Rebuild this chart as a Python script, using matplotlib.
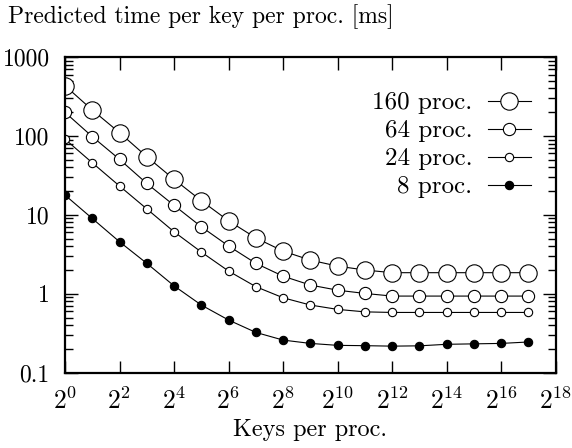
import numpy as np
import matplotlib
matplotlib.use("Agg")
import matplotlib.pyplot as plt
from matplotlib.ticker import NullLocator

plt.rcParams["font.family"] = "serif"
plt.rcParams["font.serif"] = ["cmr10", "DejaVu Serif"]
plt.rcParams["mathtext.fontset"] = "cm"
plt.rcParams["axes.formatter.use_mathtext"] = True

# 数据
key_exp = list(range(0, 18))  # keys per proc. = 2^k
t160 = [433, 213, 110, 54.6, 28.2, 15.1, 8.4, 5.1, 3.47, 2.67, 2.24, 2.0, 1.85, 1.85, 1.85, 1.85, 1.85, 1.85]
t64 = [199, 98, 50.5, 25, 13.2, 7.06, 4.03, 2.43, 1.67, 1.29, 1.11, 1.01, 0.935, 0.935, 0.935, 0.935, 0.935, 0.935]
t24 = [91, 45.7, 23.2, 11.9, 6.1, 3.38, 1.94, 1.23, 0.89, 0.72, 0.634, 0.59, 0.58, 0.58, 0.58, 0.58, 0.58, 0.58]
t8 = [17.8, 9.0, 4.56, 2.43, 1.26, 0.72, 0.465, 0.324, 0.259, 0.235, 0.222, 0.22, 0.217, 0.219, 0.229, 0.232, 0.235, 0.245]
labels = ["160 proc.", "64 proc.", "24 proc.", "8 proc."]
x_tick_exp = list(range(0, 19, 2))
y_ticks = [0.1, 1, 10, 100, 1000]
y_ticklabels = ["0.1", "1", "10", "100", "1000"]

X = [2 ** k for k in key_exp]

fig = plt.figure(figsize=(5.72, 4.48), dpi=100)
ax = fig.add_axes([65 / 572, 1 - 372.7 / 448, 490.7 / 572, 315.7 / 448])

ax.plot(X, t160, color="black", lw=0.8, marker="o", ms=12.5, mfc="white", mec="black", mew=0.8, label=labels[0])
ax.plot(X, t64, color="black", lw=0.8, marker="o", ms=8.8, mfc="white", mec="black", mew=0.8, label=labels[1])
ax.plot(X, t24, color="black", lw=0.8, marker="o", ms=6.0, mfc="white", mec="black", mew=0.8, label=labels[2])
ax.plot(X, t8, color="black", lw=0.8, marker="o", ms=6.0, mfc="black", mec="black", mew=0.8, label=labels[3])

ax.set_xscale("log", base=2)
ax.set_yscale("log")
ax.set_xlim(1, 2 ** 18)
ax.set_ylim(0.1, 1000)

ax.set_xticks([2 ** k for k in x_tick_exp], labels=[r"$2^{%d}$" % k for k in x_tick_exp])
ax.xaxis.set_minor_locator(NullLocator())
ax.set_yticks(y_ticks, labels=y_ticklabels)

ax.tick_params(axis="x", which="major", direction="in", top=True, length=9, width=1, pad=11, labelsize=18.5)
ax.tick_params(axis="y", which="major", direction="in", right=True, length=9.5, width=1, pad=11, labelsize=17)
ax.tick_params(axis="y", which="minor", direction="in", right=True, length=5.5, width=1)
for sp in ax.spines.values():
    sp.set_linewidth(1.6)

ax.set_xlabel("Keys per proc.", fontsize=17.5, labelpad=3)
fig.text(8 / 572, 1 - 17 / 448, "Predicted time per key per proc. [ms]", fontsize=17, va="center", ha="left")

ax.legend(loc="upper right", bbox_to_anchor=(0.986, 0.945), frameon=False, markerfirst=False,
          fontsize=18, handlelength=1.75, handletextpad=0.6, labelspacing=0.22, borderaxespad=0.3)

fig.savefig("out.png", dpi=100)
